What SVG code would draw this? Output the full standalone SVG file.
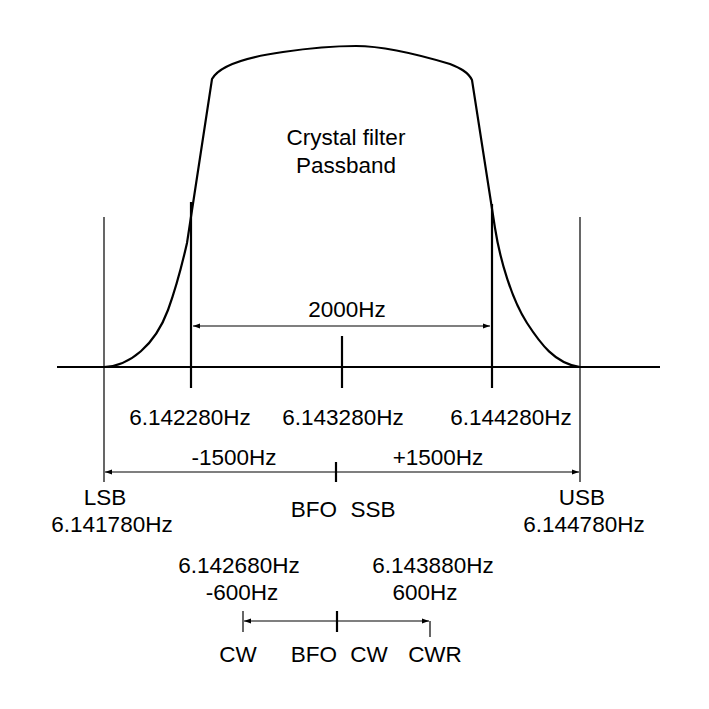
<svg xmlns="http://www.w3.org/2000/svg" width="709" height="709" viewBox="0 0 709 709">
<defs>
<style>
.t{font-family:"Liberation Sans",Arial,sans-serif;font-size:22.5px;fill:#000;text-anchor:middle}
.thin{stroke:#000;stroke-width:1.2;fill:none}
.thick{stroke:#000;stroke-width:2.2;fill:none}
</style>
<marker id="ah" markerWidth="8" markerHeight="6" refX="7" refY="3" orient="auto-start-reverse" markerUnits="userSpaceOnUse">
<path d="M0,0.5 L7,3 L0,5.5 Z" fill="#000"/>
</marker>
</defs>
<rect width="709" height="709" fill="#fff"/>
<g id="curve">
<path class="thick" d="M104,367 C130,366 155,345 168,310 C176,288 182,265 187,243 L212,79 C218,68 240,58 283,52 C310,48 330,46 356,46 C385,46 420,55 450,64 C460,68 468,72 472,80 L495,228 C500,260 512,300 527,323 C540,343 555,364 580,367"/>
</g>
<g id="connectors">
<line class="thick" x1="57" y1="367" x2="660" y2="367"/>
<line class="thin" x1="104" y1="217" x2="104" y2="482"/>
<line class="thin" x1="580" y1="217" x2="580" y2="482"/>
<line class="thick" x1="191" y1="202" x2="191" y2="388"/>
<line class="thick" x1="492" y1="204" x2="492" y2="388"/>
<line class="thick" x1="342" y1="336" x2="342" y2="388"/>
<line class="thin" x1="193" y1="326" x2="490" y2="326" marker-start="url(#ah)" marker-end="url(#ah)"/>
<line class="thin" x1="105" y1="472" x2="579" y2="472" marker-start="url(#ah)" marker-end="url(#ah)"/>
<line class="thick" x1="336" y1="462" x2="336" y2="482"/>
<line class="thin" x1="244" y1="621" x2="429" y2="621" marker-start="url(#ah)" marker-end="url(#ah)"/>
<line class="thin" x1="243" y1="611" x2="243" y2="632"/>
<line class="thick" x1="337" y1="611" x2="337" y2="632"/>
<line class="thin" x1="430" y1="621" x2="430" y2="637"/>
</g>
<g id="labels">
<text class="t" x="346" y="145">Crystal filter</text>
<text class="t" x="346" y="173">Passband</text>
<text class="t" x="347" y="317">2000Hz</text>
<text class="t" x="190" y="425">6.142280Hz</text>
<text class="t" x="343" y="425">6.143280Hz</text>
<text class="t" x="511" y="425">6.144280Hz</text>
<text class="t" x="234" y="465">-1500Hz</text>
<text class="t" x="438" y="465">+1500Hz</text>
<text class="t" x="105" y="505">LSB</text>
<text class="t" x="112" y="532">6.141780Hz</text>
<text class="t" x="314" y="517">BFO</text>
<text class="t" x="373" y="517">SSB</text>
<text class="t" x="582" y="505">USB</text>
<text class="t" x="584" y="532">6.144780Hz</text>
<text class="t" x="239" y="573">6.142680Hz</text>
<text class="t" x="242" y="600">-600Hz</text>
<text class="t" x="433" y="573">6.143880Hz</text>
<text class="t" x="425" y="600">600Hz</text>
<text class="t" x="238" y="662">CW</text>
<text class="t" x="314" y="662">BFO</text>
<text class="t" x="369" y="662">CW</text>
<text class="t" x="435" y="662">CWR</text>
</g>
</svg>
